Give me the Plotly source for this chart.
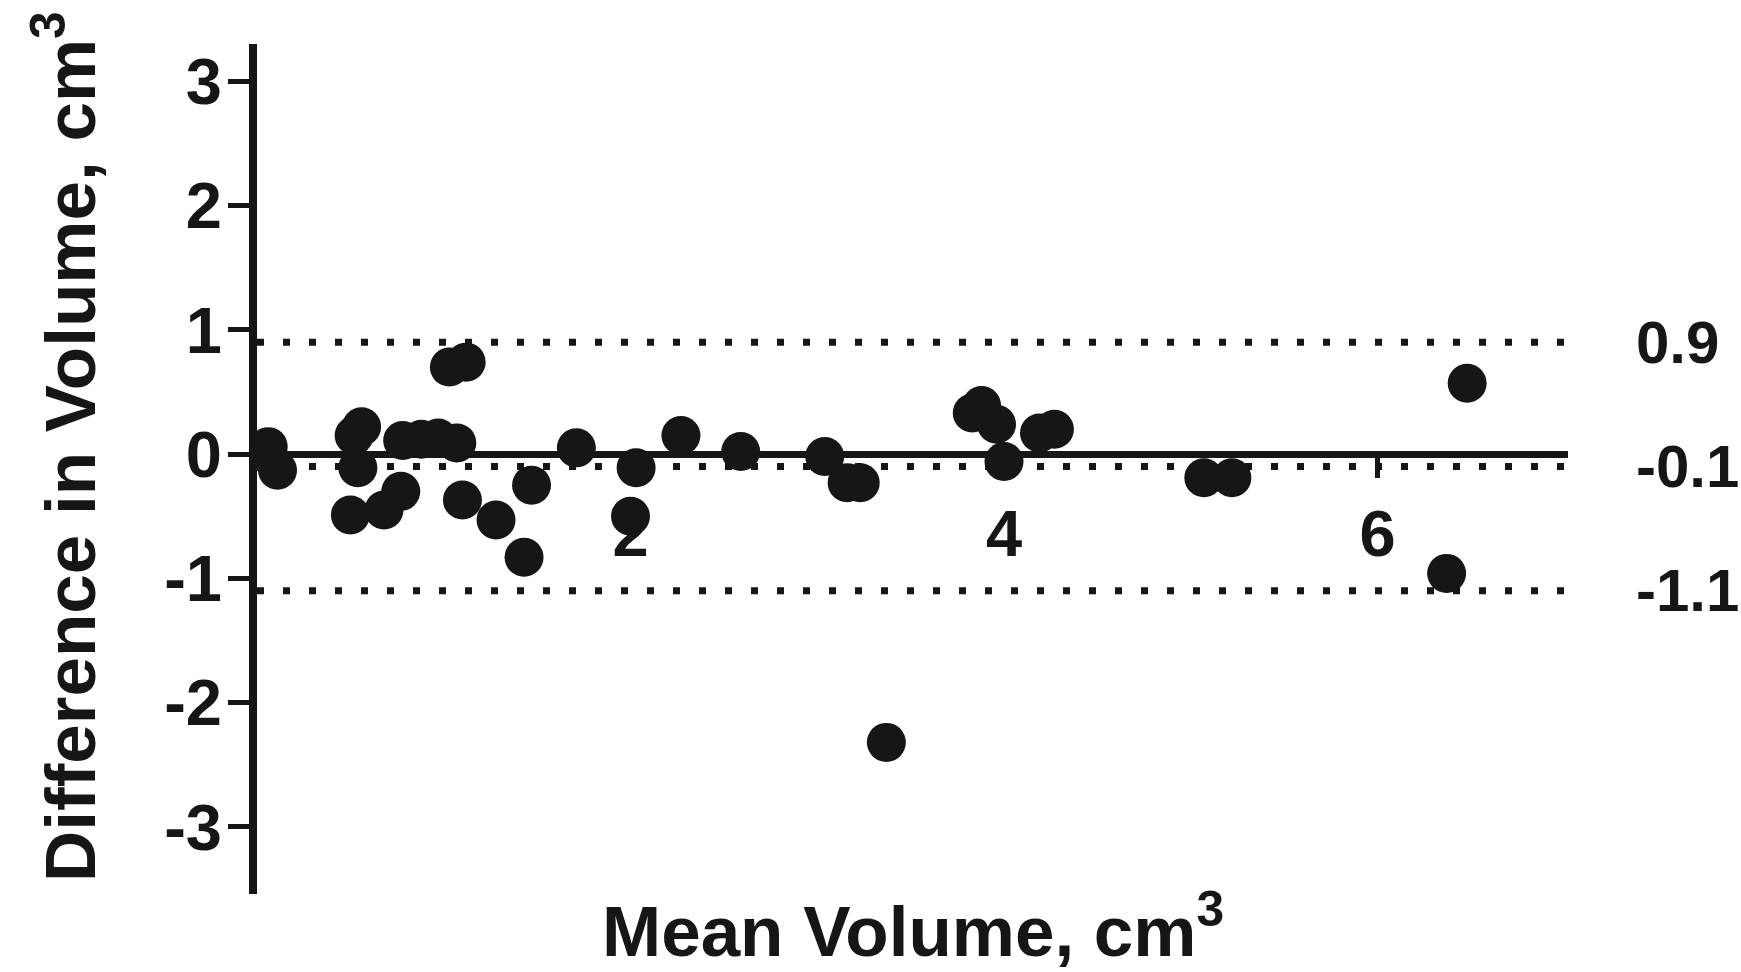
import plotly.graph_objects as go

# ---- data ----
mean_volume = [0.00, 0.06, 0.11, 0.50, 0.52, 0.56, 0.54, 0.68, 0.77, 0.78,
               0.88, 0.97, 1.07, 1.03, 1.12, 1.10, 1.28, 1.43, 1.47, 1.71,
               2.03, 2.00, 2.27, 2.59, 3.04, 3.16, 3.23, 3.37, 3.83, 3.88,
               3.96, 4.00, 4.19, 4.27, 5.07, 5.22, 6.37, 6.48]
diff_volume = [0.02, 0.06, -0.13, -0.49, 0.15, 0.22, -0.11, -0.45, -0.30, 0.11,
               0.12, 0.13, 0.09, 0.70, 0.74, -0.37, -0.53, -0.83, -0.25, 0.05,
               -0.11, -0.50, 0.15, 0.02, -0.02, -0.23, -0.23, -2.32, 0.33, 0.39,
               0.24, -0.06, 0.17, 0.20, -0.19, -0.19, -0.96, 0.57]

limit_values = [0.9, -0.1, -1.1]
limit_labels = ["0.9", "-0.1", "-1.1"]

x_tickvals = [2, 4, 6]
x_ticktext = ["2", "4", "6"]
y_tickvals = [-3, -2, -1, 0, 1, 2, 3]
y_ticktext = ["-3", "-2", "-1", "0", "1", "2", "3"]

x_range = [0, 7.02]
y_range = [-3.54, 3.30]

FONT = "Liberation Sans, Arial, Helvetica, sans-serif"
INK = "#161616"

fig = go.Figure()
fig.add_trace(go.Scatter(
    x=mean_volume, y=diff_volume, mode="markers",
    marker=dict(size=39, color=INK, line=dict(width=0)),
    showlegend=False, hoverinfo="x+y",
))

for v in limit_values:
    fig.add_shape(type="line", xref="x", yref="y", x0=x_range[0], x1=x_range[1],
                  y0=v, y1=v, layer="below",
                  line=dict(color=INK, width=7, dash="7px,19px"))

for v, t in zip(limit_values, limit_labels):
    fig.add_annotation(xref="paper", yref="y", x=1, y=v, text=t, showarrow=False,
                       xanchor="left", yanchor="middle", xshift=66,
                       font=dict(family=FONT, size=60, color=INK, weight="bold"))

x_axis_pos = (0 - y_range[0]) / (y_range[1] - y_range[0])

fig.update_layout(
    width=1741, height=972,
    margin=dict(l=257, r=173, t=44, b=78),
    paper_bgcolor="white", plot_bgcolor="white",
    font=dict(family=FONT, color=INK),
    xaxis=dict(range=x_range, anchor="free", position=x_axis_pos,
               showline=True, linewidth=7, linecolor=INK,
               ticks="outside", ticklen=20, tickwidth=5, tickcolor=INK,
               tickvals=x_tickvals, ticktext=x_ticktext, ticklabelstandoff=0,
               tickfont=dict(family=FONT, size=65, color=INK, weight="bold"),
               showgrid=False, zeroline=False, layer="below traces"),
    yaxis=dict(range=y_range, showline=True, linewidth=8, linecolor=INK,
               ticks="outside", ticklen=21, tickwidth=5, tickcolor=INK,
               tickvals=y_tickvals, ticktext=y_ticktext, ticklabelstandoff=-7,
               tickfont=dict(family=FONT, size=65, color=INK, weight="bold"),
               showgrid=False, zeroline=False, layer="below traces"),
    annotations=list(fig.layout.annotations) + [
        dict(xref="paper", yref="paper", x=0.5, y=0, yanchor="top", yshift=15,
             text="Mean Volume, cm<sup>3</sup>", showarrow=False,
             font=dict(family=FONT, size=71, color=INK, weight="bold")),
        dict(xref="paper", yref="paper", x=0, y=0.5, xanchor="center", yanchor="middle",
             xshift=-192, yshift=22, textangle=-90,
             text="Difference in Volume, cm<sup>3</sup>", showarrow=False,
             font=dict(family=FONT, size=71, color=INK, weight="bold")),
    ],
)

fig.write_html("out.html")
